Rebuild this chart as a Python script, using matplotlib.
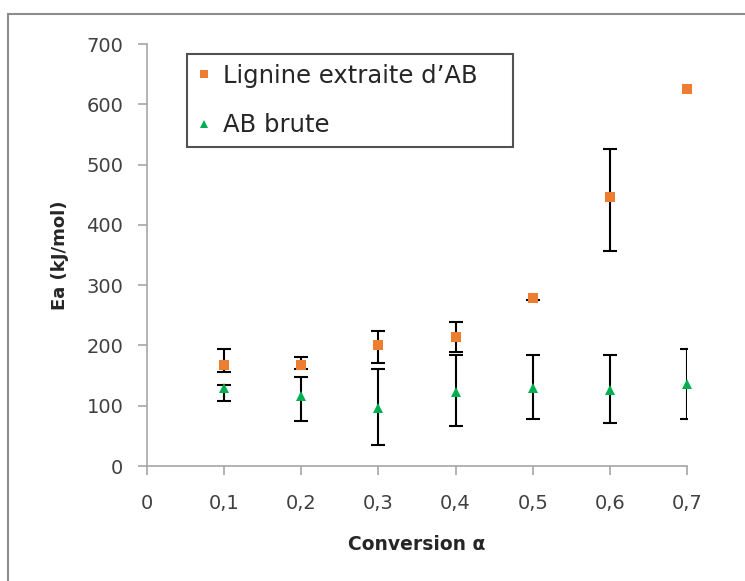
import matplotlib
matplotlib.use("Agg")
import matplotlib.pyplot as plt
from matplotlib.patches import Rectangle

nan = float("nan")

# conversion values
Conversion = [0.1, 0.2, 0.3, 0.4, 0.5, 0.6, 0.7]

# Lignine extraite d'AB
EaLignine = [168, 167, 200, 214, 279, 446, 625]
ErrLigBas = [12, 6, 29, 25, 3, 89, nan]
ErrLigHaut = [26, 14, 24, 25, nan, 80, nan]

# AB brute
EaBrute = [130, 116, 96, 123, 129, 126, 136]
ErrBrutBas = [22, 41, 61, 57, 51, 55, 58]
ErrBrutHaut = [4, 32, 65, 61, 55, 58, 58]

XTicks = [0, 0.1, 0.2, 0.3, 0.4, 0.5, 0.6, 0.7]
XTickLabels = ["0", "0,1", "0,2", "0,3", "0,4", "0,5", "0,6", "0,7"]
YTicks = [0, 100, 200, 300, 400, 500, 600, 700]

Orange = "#ED7D31"
Vert = "#00B050"
Gris = "#A6A6A6"

Fig = plt.figure(figsize=(7.45, 5.81), dpi=100)
Ax = Fig.add_axes([147/745, 1 - 466/581, 540/745, 422/581])

# cadre gris autour du graphique
Fig.patches.append(Rectangle((8/745, -0.1), 1.2, 1.1 - 14.5/581, transform=Fig.transFigure,
                             fill=False, edgecolor="#8C8C8C", linewidth=1.5))

Ax.errorbar(Conversion, EaLignine, yerr=[ErrLigBas, ErrLigHaut], fmt="none",
            ecolor="black", elinewidth=1.5, capsize=4.8, capthick=1.5, zorder=2)
Ax.errorbar(Conversion, EaBrute, yerr=[ErrBrutBas, ErrBrutHaut], fmt="none",
            ecolor="black", elinewidth=1.5, capsize=4.8, capthick=1.5, zorder=2)

Ax.plot(Conversion, EaLignine, linestyle="none", marker="s", markersize=7,
        color=Orange, markeredgewidth=0, label="Lignine extraite d\u2019AB", clip_on=False, zorder=3)
Ax.plot(Conversion, EaBrute, linestyle="none", marker="^", markersize=7.5,
        color=Vert, markeredgewidth=0, label="AB brute", clip_on=False, zorder=3)

Ax.set_xlim(0, 0.7)
Ax.set_ylim(0, 700)
Ax.set_xticks(XTicks)
Ax.set_xticklabels(XTickLabels)
Ax.set_yticks(YTicks)

for S in ["top", "right"]:
    Ax.spines[S].set_visible(False)
for S in ["left", "bottom"]:
    Ax.spines[S].set_color(Gris)
    Ax.spines[S].set_linewidth(1.2)

Ax.tick_params(axis="y", direction="out", length=6.5, width=1.2, color=Gris,
               labelsize=14, labelcolor="#404040", pad=10.5)
Ax.tick_params(axis="x", direction="out", length=6.5, width=1.2, color=Gris,
               labelsize=14, labelcolor="#404040", pad=14)

Fig.text(417/745, 1 - 544/581, "Conversion \u03b1", ha="center", va="center",
         fontsize=13.5, fontweight="bold", color="#262626")
Fig.text(60/745, 1 - 255/581, "Ea (kJ/mol)", ha="center", va="center", rotation=90,
         fontsize=13, fontweight="bold", color="#262626")

Leg = Ax.legend(loc="upper left", bbox_to_anchor=(187/745, 1 - 150/581, 326/745, 96/581),
                bbox_transform=Fig.transFigure, borderaxespad=0, mode="expand",
                prop={"family": "DejaVu Sans", "size": 17.5}, frameon=True, fancybox=False,
                markerscale=0.8, handlelength=0.6, handletextpad=0.5,
                labelspacing=1.05, borderpad=0.4)
Leg.get_frame().set_edgecolor("#262626")
Leg.get_frame().set_linewidth(1.5)
for T in Leg.get_texts():
    T.set_color("#262626")

Fig.savefig("out.png", dpi=100)
